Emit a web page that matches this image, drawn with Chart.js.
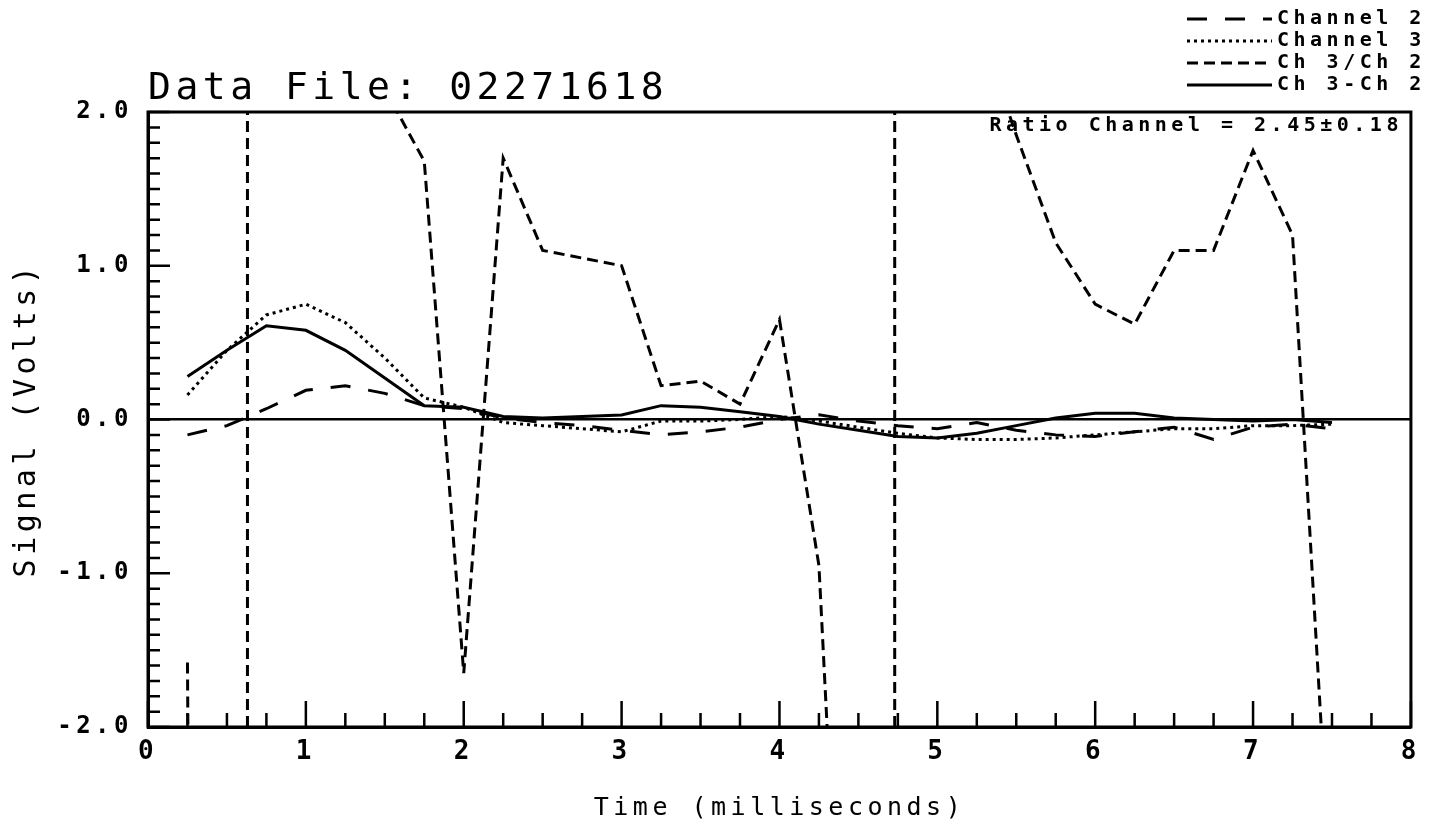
<!DOCTYPE html>
<html>
<head>
<meta charset="utf-8">
<script src="https://cdn.jsdelivr.net/npm/chart.js@4.4.1/dist/chart.umd.min.js"></script>
<style>
  html, body { margin: 0; padding: 0; background: #fff; }
  canvas { display: block; }
</style>
</head>
<body>
<canvas id="chart" width="1431" height="832"></canvas>
<script>
// sample times (ms) and the four traces
const times = [0.25, 0.5, 0.75, 1.0, 1.25, 1.5, 1.75, 2.0, 2.25, 2.5, 2.75, 3.0, 3.25, 3.5, 3.75,
  4.0, 4.25, 4.5, 4.75, 5.0, 5.25, 5.5, 5.75, 6.0, 6.25, 6.5, 6.75, 7.0, 7.25, 7.5];

const channel2 = [-0.1, -0.04, 0.07, 0.19, 0.22, 0.17, 0.09, 0.07, 0.01, -0.02, -0.04, -0.07, -0.1, -0.08, -0.05,
  0.0, 0.03, -0.01, -0.04, -0.06, -0.02, -0.07, -0.1, -0.11, -0.08, -0.05, -0.13, -0.05, -0.03, -0.06];

const channel3 = [0.16, 0.45, 0.68, 0.75, 0.63, 0.4, 0.14, 0.08, -0.02, -0.04, -0.06, -0.08, -0.01, -0.01, 0.0,
  0.02, -0.01, -0.05, -0.09, -0.12, -0.13, -0.13, -0.12, -0.1, -0.08, -0.06, -0.06, -0.04, -0.04, -0.03];

const ratio = [-1.58, -40, null, null, null, 2.15, 1.68, -1.65, 1.7, 1.1, 1.05, 1.0, 0.22, 0.25, 0.1,
  0.65, -0.95, -6, null, null, 2.6, 1.85, 1.15, 0.75, 0.62, 1.1, 1.1, 1.75, 1.2, -3.2];

const difference = [0.28, 0.45, 0.61, 0.58, 0.45, 0.27, 0.09, 0.08, 0.02, 0.01, 0.02, 0.03, 0.09, 0.08, 0.05,
  0.02, -0.03, -0.07, -0.11, -0.12, -0.09, -0.04, 0.01, 0.04, 0.04, 0.01, 0.0, -0.01, 0.0, -0.02];

const markerTimes = [0.63, 4.73];

const seriesLabels = ["Channel 2", "Channel 3", "Ch 3/Ch 2", "Ch 3-Ch 2"];
const titleText = "Data File: 02271618";
const ratioNote = "Ratio Channel = 2.45\u00b10.18";

const yRange = [-2, 2];
const xRange = [0, 8];
const yMinorStep = 0.1;
const xMinorStep = 0.25;

const FONT = "'DejaVu Sans Mono', 'Liberation Mono', monospace";
const SPACING = "4.5px";

function toPoints(values) {
  return values.map((v, i) => ({ x: times[i], y: v }));
}

function trace(label, values, dash) {
  return {
    label: label,
    data: toPoints(values),
    borderColor: "#000",
    borderWidth: 3,
    borderDash: dash,
    pointRadius: 0,
    tension: 0,
    spanGaps: false,
    fill: false,
  };
}

const datasets = [
  trace(seriesLabels[0], channel2, [20, 18]),
  trace(seriesLabels[1], channel3, [3, 4]),
  trace(seriesLabels[2], ratio, [11, 6]),
  trace(seriesLabels[3], difference, []),
];

markerTimes.forEach((t) => {
  datasets.push({
    label: "",
    data: [{ x: t, y: yRange[0] }, { x: t, y: yRange[1] }],
    borderColor: "#000",
    borderWidth: 3,
    borderDash: [11, 6],
    pointRadius: 0,
    fill: false,
  });
});

// frame, inward tick marks, legend and the ratio note
const plotterDecor = {
  id: "plotterDecor",
  beforeUpdate(chart) {
    chart.ctx.letterSpacing = SPACING;
  },
  beforeDraw(chart) {
    const ctx = chart.ctx;
    ctx.letterSpacing = SPACING;
    ctx.save();
    ctx.fillStyle = "#fff";
    ctx.fillRect(0, 0, chart.width, chart.height);
    ctx.restore();
  },
  afterDraw(chart) {
    const { ctx, chartArea: a, scales } = chart;
    const x = scales.x;
    const y = scales.y;
    ctx.save();
    ctx.strokeStyle = "#000";
    ctx.fillStyle = "#000";
    ctx.setLineDash([]);

    ctx.lineWidth = 3;
    ctx.strokeRect(a.left, a.top, a.right - a.left, a.bottom - a.top);

    ctx.beginPath();
    const ny = Math.round((yRange[1] - yRange[0]) / yMinorStep);
    for (let i = 0; i <= ny; i++) {
      const py = y.getPixelForValue(yRange[0] + i * yMinorStep);
      const len = i % 10 === 0 ? 22 : 12;
      ctx.moveTo(a.left, py);
      ctx.lineTo(a.left + len, py);
    }
    const nx = Math.round((xRange[1] - xRange[0]) / xMinorStep);
    for (let i = 0; i <= nx; i++) {
      const px = x.getPixelForValue(xRange[0] + i * xMinorStep);
      const len = i % 4 === 0 ? 26 : 14;
      ctx.moveTo(px, a.bottom);
      ctx.lineTo(px, a.bottom - len);
    }
    ctx.lineWidth = 2.5;
    ctx.stroke();

    // legend, top right
    ctx.font = "bold 20px " + FONT;
    ctx.textBaseline = "middle";
    ctx.textAlign = "left";
    chart.data.datasets.filter((d) => d.label).forEach((d, i) => {
      const ly = 19 + i * 22;
      ctx.beginPath();
      ctx.setLineDash(d.borderDash || []);
      ctx.lineWidth = 3;
      ctx.moveTo(1187, ly);
      ctx.lineTo(1272, ly);
      ctx.stroke();
      ctx.setLineDash([]);
      ctx.fillText(d.label, 1277, ly);
    });

    ctx.textAlign = "right";
    ctx.fillText(ratioNote, a.right - 8, a.top + 14);
    ctx.restore();
  },
};

new Chart(document.getElementById("chart"), {
  type: "line",
  data: { datasets: datasets },
  plugins: [plotterDecor],
  options: {
    responsive: false,
    animation: false,
    devicePixelRatio: 1,
    layout: { padding: { left: 0, right: 7, top: 0, bottom: 0 } },
    plugins: {
      legend: { display: false },
      tooltip: { enabled: false },
      title: {
        display: true,
        text: titleText,
        align: "start",
        fullSize: false,
        color: "#000",
        font: { family: FONT, size: 38, weight: "normal" },
        padding: { top: 66, bottom: 0.4 },
      },
    },
    scales: {
      x: {
        type: "linear",
        min: xRange[0],
        max: xRange[1],
        afterFit(scale) { scale.height = 105; },
        grid: { display: false, drawTicks: false },
        border: { display: true, color: "#000", width: 3 },
        ticks: {
          stepSize: 1,
          color: "#000",
          padding: 10,
          maxRotation: 0,
          font: { family: FONT, size: 26, weight: "bold" },
          callback: (v) => String(v),
        },
        title: {
          display: true,
          text: "Time (milliseconds)",
          color: "#000",
          font: { family: FONT, size: 25 },
          padding: { top: 0, bottom: 9 },
        },
      },
      y: {
        type: "linear",
        min: yRange[0],
        max: yRange[1],
        afterFit(scale) { scale.width = 148; },
        grid: {
          drawTicks: false,
          color: (ctx) => (ctx.tick && ctx.tick.value === 0 ? "#000" : "rgba(0,0,0,0)"),
          lineWidth: 2.5,
        },
        border: { display: true, color: "#000", width: 3 },
        ticks: {
          stepSize: 1,
          color: "#000",
          padding: 15,
          font: { family: FONT, size: 24, weight: "bold" },
          callback: (v) => v.toFixed(1),
        },
        title: {
          display: true,
          text: "Signal (Volts)",
          color: "#000",
          font: { family: FONT, size: 30 },
          padding: { top: 9, bottom: 0 },
        },
      },
    },
  },
});
</script>
</body>
</html>
